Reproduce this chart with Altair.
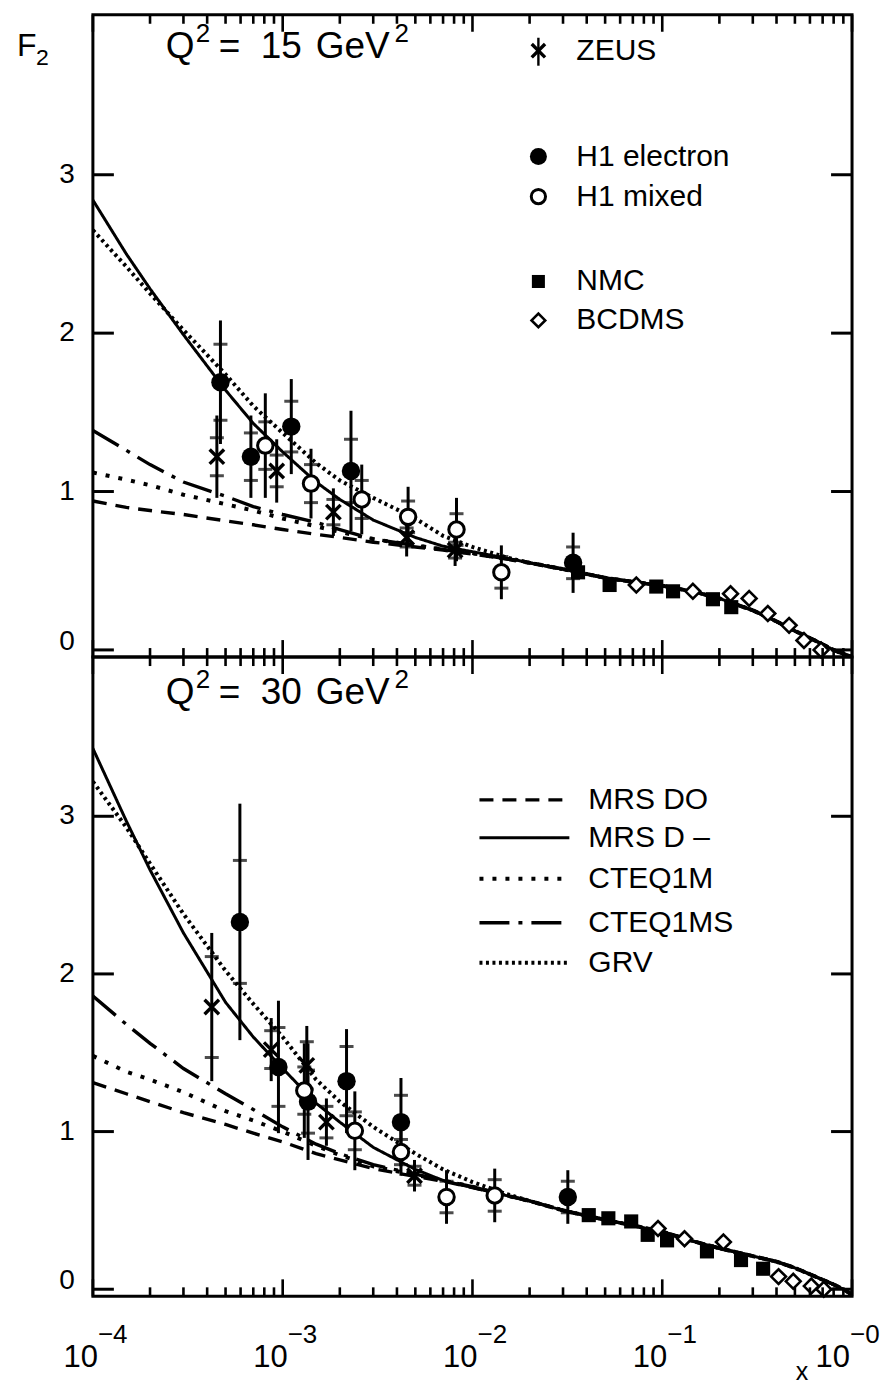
import altair as alt
import pandas as pd

FONT = "Liberation Sans"
W = 760          # plot width (shared x axis)
H_TOP = 643      # upper panel height
H_BOT = 640      # lower panel height
Y_DOMAIN = [-0.045, 4.01]

# ---------------------------------------------------------------- curves
x_head = [1e-4, 1.5e-4, 2e-4, 3e-4, 5e-4, 7e-4, 1e-3, 1.5e-3, 2e-3, 3e-3,
          5e-3, 7e-3, 1e-2, 1.5e-2]
x_tail = [2e-2, 3e-2, 5e-2, 7e-2, 0.1, 0.15, 0.2, 0.3, 0.4, 0.5, 0.6, 0.7,
          0.8, 0.9, 1.0]

models = ["MRS DO", "MRS D –", "CTEQ1M", "CTEQ1MS", "GRV"]

# Q2 = 15 GeV2
tail_15 = [0.55, 0.51, 0.455, 0.43, 0.405, 0.365, 0.325, 0.25, 0.18, 0.12,
           0.075, 0.035, 0.0, -0.025, -0.045]
mrs_d0_15 = [0.94, 0.90, 0.88, 0.855, 0.815, 0.79, 0.76, 0.73, 0.71, 0.68,
             0.65, 0.63, 0.605, 0.575]
mrs_dm_15 = [2.84, 2.50, 2.28, 1.99, 1.64, 1.43, 1.25, 1.06, 0.95, 0.82,
             0.71, 0.655, 0.62, 0.58]
cteq1m_15 = [1.12, 1.075, 1.04, 0.98, 0.92, 0.88, 0.83, 0.78, 0.745, 0.70,
             0.66, 0.635, 0.61, 0.575]
cteq1ms_15 = [1.385, 1.26, 1.17, 1.06, 0.97, 0.905, 0.855, 0.805, 0.76, 0.70,
              0.66, 0.635, 0.61, 0.575]
grv_15 = [2.65, 2.42, 2.25, 2.02, 1.74, 1.54, 1.37, 1.18, 1.07, 0.96,
          0.83, 0.72, 0.65, 0.585]

# Q2 = 30 GeV2
tail_30 = [0.56, 0.50, 0.44, 0.405, 0.365, 0.30, 0.26, 0.21, 0.175, 0.135,
           0.095, 0.06, 0.03, 0.0, -0.035]
mrs_d0_30 = [1.31, 1.24, 1.19, 1.12, 1.045, 0.99, 0.935, 0.86, 0.82, 0.765,
             0.715, 0.685, 0.645, 0.595]
mrs_dm_30 = [3.43, 2.97, 2.66, 2.26, 1.82, 1.60, 1.40, 1.18, 1.06, 0.90,
             0.76, 0.69, 0.645, 0.595]
cteq1m_30 = [1.48, 1.38, 1.33, 1.25, 1.13, 1.07, 1.00, 0.91, 0.85, 0.78,
             0.725, 0.69, 0.65, 0.595]
cteq1ms_30 = [1.86, 1.68, 1.56, 1.40, 1.24, 1.14, 1.03, 0.92, 0.86, 0.79,
              0.73, 0.69, 0.65, 0.595]
grv_30 = [3.22, 2.93, 2.70, 2.38, 2.02, 1.81, 1.60, 1.33, 1.19, 1.03,
          0.86, 0.76, 0.68, 0.605]

# ---------------------------------------------------------------- data points
# Q2 = 15 GeV2
zeus15_x = [4.5e-4, 9.3e-4, 1.85e-3, 4.5e-3, 8.1e-3]
zeus15_y = [1.22, 1.13, 0.87, 0.71, 0.63]
zeus15_stat = [0.12, 0.10, 0.08, 0.06, 0.05]
zeus15_tot = [0.26, 0.20, 0.15, 0.12, 0.10]

h1e15_x = [4.7e-4, 6.8e-4, 1.11e-3, 2.29e-3, 3.39e-2]
h1e15_y = [1.69, 1.22, 1.41, 1.13, 0.55]
h1e15_stat = [0.24, 0.15, 0.16, 0.20, 0.10]
h1e15_tot = [0.39, 0.26, 0.30, 0.38, 0.19]

h1m15_x = [8.1e-4, 1.41e-3, 2.61e-3, 4.58e-3, 8.24e-3, 1.42e-2]
h1m15_y = [1.29, 1.05, 0.95, 0.84, 0.76, 0.49]
h1m15_stat = [0.15, 0.12, 0.12, 0.10, 0.10, 0.10]
h1m15_tot = [0.33, 0.22, 0.22, 0.19, 0.20, 0.17]

nmc15_x = [0.036, 0.0528, 0.093, 0.114, 0.185, 0.231]
nmc15_y = [0.49, 0.41, 0.40, 0.37, 0.32, 0.27]

bcdms15_x = [0.073, 0.145, 0.229, 0.287, 0.36, 0.466, 0.558, 0.687]
bcdms15_y = [0.41, 0.37, 0.355, 0.325, 0.23, 0.155, 0.06, 0.0]

# Q2 = 30 GeV2
zeus30_x = [4.23e-4, 8.7e-4, 1.34e-3, 1.7e-3, 4.95e-3]
zeus30_y = [1.79, 1.52, 1.42, 1.06, 0.72]
zeus30_stat = [0.32, 0.12, 0.15, 0.10, 0.06]
zeus30_tot = [0.47, 0.20, 0.25, 0.15, 0.10]

h1e30_x = [5.95e-4, 9.5e-4, 1.36e-3, 2.17e-3, 4.2e-3, 3.18e-2]
h1e30_y = [2.33, 1.41, 1.19, 1.32, 1.06, 0.585]
h1e30_stat = [0.39, 0.25, 0.20, 0.22, 0.17, 0.10]
h1e30_tot = [0.75, 0.42, 0.37, 0.33, 0.28, 0.17]

h1m30_x = [1.3e-3, 2.4e-3, 4.2e-3, 7.3e-3, 1.31e-2]
h1m30_y = [1.26, 1.005, 0.87, 0.585, 0.595]
h1m30_stat = [0.15, 0.12, 0.08, 0.10, 0.10]
h1m30_tot = [0.30, 0.25, 0.15, 0.17, 0.17]

nmc30_x = [0.041, 0.052, 0.0686, 0.0838, 0.106, 0.172, 0.26, 0.34]
nmc30_y = [0.47, 0.45, 0.43, 0.345, 0.31, 0.24, 0.185, 0.13]

bcdms30_x = [0.095, 0.131, 0.21, 0.41, 0.49, 0.61, 0.71]
bcdms30_y = [0.385, 0.32, 0.30, 0.08, 0.05, 0.02, 0.0]

# ---------------------------------------------------------------- axis ticks
y_ticks = [0, 1, 2, 3]
x_decades = [1e-4, 1e-3, 1e-2, 1e-1, 1.0]
x_exponents = ["−4", "−3", "−2", "−1", "−0"]
x_minor = [m * d for d in x_decades[:-1] for m in range(2, 10)]

# ---------------------------------------------------------------- styling
line_style = {
    "MRS DO": dict(strokeDash=[14, 9], strokeWidth=3.4),
    "MRS D –": dict(strokeDash=[1, 0], strokeWidth=3.0),
    "CTEQ1M": dict(strokeDash=[4, 9], strokeWidth=4.0),
    "CTEQ1MS": dict(strokeDash=[30, 9, 4, 9], strokeWidth=3.4),
    "GRV": dict(strokeDash=[3, 3.5], strokeWidth=4.0),
}
ASTERISK = "M -1 -1 L 1 1 M -1 1 L 1 -1"

X_SCALE = alt.Scale(type="log", domain=[1e-4, 1.0], nice=False)
Y_SCALE = alt.Scale(domain=Y_DOMAIN, nice=False, zero=False)


def xenc(field):
    return alt.X(f"{field}:Q", scale=X_SCALE, axis=None)


def yenc(field):
    return alt.Y(f"{field}:Q", scale=Y_SCALE, axis=None)


def text_at(text, x, y, size, align="left", baseline="alphabetic"):
    return alt.Chart(pd.DataFrame({"t": [text]})).mark_text(
        font=FONT, fontSize=size, align=align, baseline=baseline, color="black"
    ).encode(text="t:N", x=alt.value(x), y=alt.value(y))


def curve_layers(curves):
    rows = []
    for name, (head, tail) in curves.items():
        for xv, yv in zip(x_head + x_tail, head + tail):
            rows.append({"model": name, "x": xv, "F2": yv})
    df = pd.DataFrame(rows)
    layers = []
    for name in models:
        layers.append(
            alt.Chart(df).transform_filter(alt.datum.model == name)
            .mark_line(color="black", clip=True, **line_style[name])
            .encode(x=xenc("x"), y=yenc("F2"), order="x:Q")
        )
    return layers


def error_layers(xs, ys, stat, tot):
    df = pd.DataFrame({"x": xs, "y": ys, "stat": stat, "tot": tot})
    base = alt.Chart(df).transform_calculate(
        lo="datum.y - datum.tot", hi="datum.y + datum.tot",
        slo="datum.y - datum.stat", shi="datum.y + datum.stat",
    )
    tick = dict(orient="horizontal", color="black", size=14, thickness=3)
    return [
        base.mark_rule(color="black", strokeWidth=3).encode(
            x=xenc("x"), y=yenc("lo"), y2="hi:Q"),
        base.mark_tick(**tick).encode(x=xenc("x"), y=yenc("shi")),
        base.mark_tick(**tick).encode(x=xenc("x"), y=yenc("slo")),
    ]


def marker(xs, ys, **mark):
    df = pd.DataFrame({"x": xs, "y": ys})
    return alt.Chart(df).mark_point(opacity=1, **mark).encode(x=xenc("x"), y=yenc("y"))


MK_ZEUS = dict(shape=ASTERISK, filled=False, stroke="black", strokeWidth=3.4, size=210)
MK_H1E = dict(shape="circle", filled=True, color="black", size=340)
MK_H1M = dict(shape="circle", filled=True, fill="white", stroke="black", strokeWidth=3, size=240)
MK_NMC = dict(shape="square", filled=True, color="black", size=200)
MK_BCDMS = dict(shape="diamond", filled=True, fill="white", stroke="black", strokeWidth=2.6, size=220)


def frame_ticks(height):
    layers = []
    yt = alt.Chart(pd.DataFrame({"v": y_ticks}))
    layers.append(yt.mark_rule(color="black", strokeWidth=3).encode(
        y=yenc("v"), x=alt.value(0), x2=alt.value(21)))
    layers.append(yt.mark_rule(color="black", strokeWidth=3).encode(
        y=yenc("v"), x=alt.value(W - 21), x2=alt.value(W)))
    for vals, ln in ((x_decades, 17), (x_minor, 9)):
        xt = alt.Chart(pd.DataFrame({"v": vals}))
        layers.append(xt.mark_rule(color="black", strokeWidth=2.6).encode(
            x=xenc("v"), y=alt.value(0), y2=alt.value(ln)))
        layers.append(xt.mark_rule(color="black", strokeWidth=2.6).encode(
            x=xenc("v"), y=alt.value(height - ln), y2=alt.value(height)))
    # y tick labels
    lab = pd.DataFrame({"v": y_ticks[1:], "t": [str(v) for v in y_ticks[1:]]})
    layers.append(alt.Chart(lab).mark_text(
        font=FONT, fontSize=28, align="right", baseline="middle", dx=-18, color="black"
    ).encode(x=alt.value(0), y=yenc("v"), text="t:N"))
    zero = pd.DataFrame({"v": y_ticks[:1], "t": ["0"]})
    layers.append(alt.Chart(zero).mark_text(
        font=FONT, fontSize=28, align="right", baseline="middle", dx=-18, dy=-8, color="black"
    ).encode(x=alt.value(0), y=yenc("v"), text="t:N"))
    return layers


def title_q2(value, baseline):
    return [
        text_at("Q", 73, baseline, 37),
        text_at("2", 103, baseline - 16, 26),
        text_at("=", 126, baseline, 37),
        text_at(value, 168, baseline, 37),
        text_at("GeV", 223, baseline, 37),
        text_at("2", 302, baseline - 16, 26),
    ]


# ---------------------------------------------------------------- upper panel
top_layers = []
top_layers += curve_layers({
    "MRS DO": (mrs_d0_15, tail_15), "MRS D –": (mrs_dm_15, tail_15),
    "CTEQ1M": (cteq1m_15, tail_15), "CTEQ1MS": (cteq1ms_15, tail_15),
    "GRV": (grv_15, tail_15),
})
top_layers += error_layers(zeus15_x, zeus15_y, zeus15_stat, zeus15_tot)
top_layers += error_layers(h1e15_x, h1e15_y, h1e15_stat, h1e15_tot)
top_layers += error_layers(h1m15_x, h1m15_y, h1m15_stat, h1m15_tot)
top_layers += [
    marker(nmc15_x, nmc15_y, **MK_NMC),
    marker(bcdms15_x, bcdms15_y, **MK_BCDMS),
    marker(zeus15_x, zeus15_y, **MK_ZEUS),
    marker(h1e15_x, h1e15_y, **MK_H1E),
    marker(h1m15_x, h1m15_y, **MK_H1M),
]
top_layers += frame_ticks(H_TOP)
top_layers += title_q2("15", 43)
# F2 label
top_layers += [text_at("F", -76, 41, 32), text_at("2", -57, 50, 23)]

# marker legend
LEG_SX, LEG_TX = 446, 484
legend_rows = [("ZEUS", 36, MK_ZEUS), ("H1 electron", 142, MK_H1E),
               ("H1 mixed", 182, MK_H1M), ("NMC", 267, MK_NMC),
               ("BCDMS", 306, MK_BCDMS)]
for name, ry, mk in legend_rows:
    sym = dict(mk)
    sym["size"] = int(sym["size"] * 0.85)
    top_layers.append(
        alt.Chart(pd.DataFrame({"t": [name]})).mark_point(opacity=1, **sym)
        .encode(x=alt.value(LEG_SX), y=alt.value(ry)))
    top_layers.append(text_at(name, LEG_TX, ry, 30, baseline="middle"))
top_layers.append(
    alt.Chart(pd.DataFrame({"t": ["ZEUS"]})).mark_rule(color="black", strokeWidth=2.4)
    .encode(x=alt.value(LEG_SX), y=alt.value(23), y2=alt.value(51)))

top = alt.layer(*top_layers).properties(width=W, height=H_TOP)

# ---------------------------------------------------------------- lower panel
bot_layers = []
bot_layers += curve_layers({
    "MRS DO": (mrs_d0_30, tail_30), "MRS D –": (mrs_dm_30, tail_30),
    "CTEQ1M": (cteq1m_30, tail_30), "CTEQ1MS": (cteq1ms_30, tail_30),
    "GRV": (grv_30, tail_30),
})
bot_layers += error_layers(zeus30_x, zeus30_y, zeus30_stat, zeus30_tot)
bot_layers += error_layers(h1e30_x, h1e30_y, h1e30_stat, h1e30_tot)
bot_layers += error_layers(h1m30_x, h1m30_y, h1m30_stat, h1m30_tot)
bot_layers += [
    marker(nmc30_x, nmc30_y, **MK_NMC),
    marker(bcdms30_x, bcdms30_y, **MK_BCDMS),
    marker(zeus30_x, zeus30_y, **MK_ZEUS),
    marker(h1e30_x, h1e30_y, **MK_H1E),
    marker(h1m30_x, h1m30_y, **MK_H1M),
]
bot_layers += frame_ticks(H_BOT)
bot_layers += title_q2("30", 47)

# line legend
LX0, LX1, LTX = 387, 477, 496
for name, ry in zip(models, [143, 181, 222, 266, 306]):
    bot_layers.append(
        alt.Chart(pd.DataFrame({"t": [name]})).mark_rule(color="black", **line_style[name])
        .encode(x=alt.value(LX0), x2=alt.value(LX1), y=alt.value(ry)))
    bot_layers.append(text_at(name, LTX, ry, 30, baseline="middle"))

# x tick labels 10^n and axis title
dec = pd.DataFrame({"v": x_decades, "e": x_exponents, "b": ["10"] * len(x_decades)})
inner = dec.iloc[:-1]
last = dec.iloc[-1:]
for part, shift in ((inner, 5), (last, -2)):
    bot_layers.append(alt.Chart(part).mark_text(
        font=FONT, fontSize=31, align="right", baseline="alphabetic", dx=shift, color="black"
    ).encode(x=xenc("v"), y=alt.value(H_BOT + 71), text="b:N"))
    bot_layers.append(alt.Chart(part).mark_text(
        font=FONT, fontSize=26, align="left", baseline="alphabetic", dx=shift, color="black"
    ).encode(x=xenc("v"), y=alt.value(H_BOT + 47), text="e:N"))
bot_layers.append(text_at("x", 710, H_BOT + 84, 25, align="center"))

bottom = alt.layer(*bot_layers).properties(width=W, height=H_BOT)

chart = alt.vconcat(top, bottom, spacing=0, bounds="flush").properties(
    padding={"left": 15, "top": 11, "right": 5, "bottom": 10}
).configure_view(stroke="black", strokeWidth=3)

chart.save("out.html", embed_options={"renderer": "svg", "actions": False})
